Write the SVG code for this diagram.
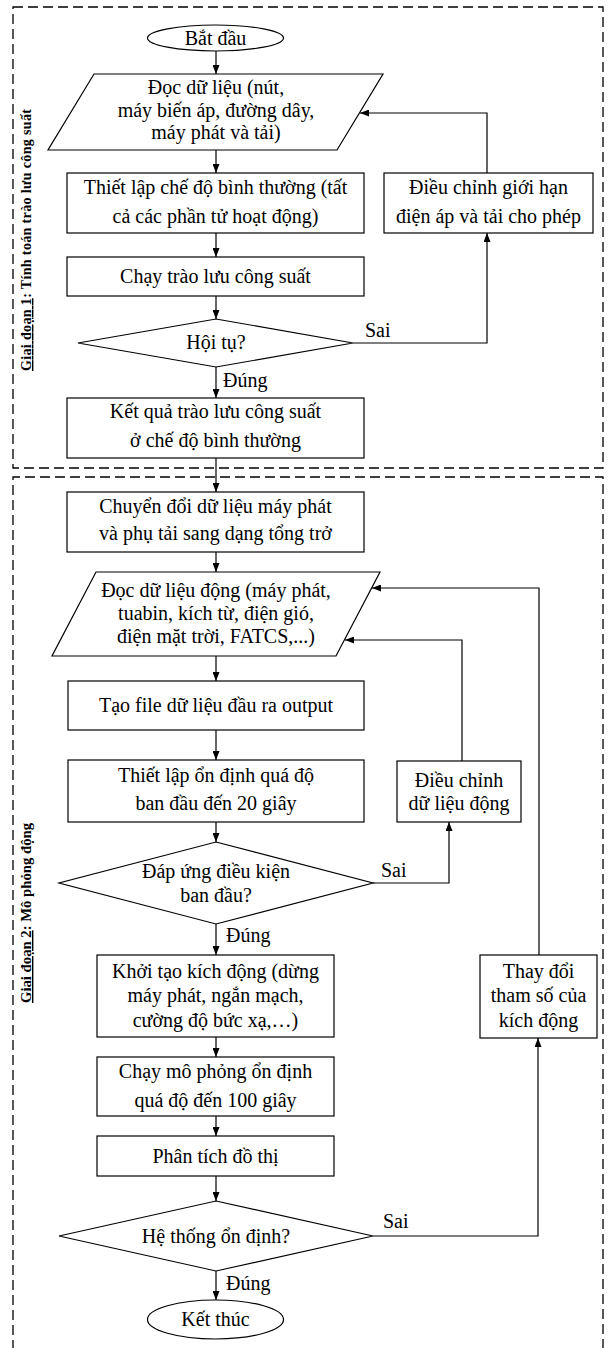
<svg xmlns="http://www.w3.org/2000/svg" width="608" height="1348" viewBox="0 0 608 1348">
<defs>
<marker id="ah" markerUnits="userSpaceOnUse" markerWidth="9" markerHeight="7" refX="9" refY="3.5" orient="auto"><path d="M0,0 L9,3.5 L0,7 z" fill="#000"/></marker>
<style>
.n{fill:#fff;stroke:#000;stroke-width:1.2}
.t{font-family:"Liberation Serif","Times New Roman",serif;font-size:20px;fill:#000;text-anchor:middle}
.l{font-family:"Liberation Serif","Times New Roman",serif;font-size:20px;fill:#000}
.c{fill:none;stroke:#000;stroke-width:1.2;marker-end:url(#ah)}
.d{fill:none;stroke:#000;stroke-width:1.3;stroke-dasharray:10 5}
.v{font-family:"Liberation Serif","Times New Roman",serif;font-size:14px;font-weight:bold;fill:#000;text-anchor:middle}
</style>
</defs>
<rect width="608" height="1348" fill="#fff"/>
<g id="stages">
<rect class="d" x="13" y="7" width="590" height="461"/>
<path class="d" d="M13,1350 V477 H603 V1350"/>
<text class="v" transform="translate(31,240) rotate(-90)" textLength="262" lengthAdjust="spacing"><tspan text-decoration="underline">Giai đoạn 1</tspan>: Tính toán trào lưu công suất</text>
<text class="v" transform="translate(31,913) rotate(-90)" textLength="180" lengthAdjust="spacingAndGlyphs"><tspan text-decoration="underline">Giai đoạn 2</tspan>: Mô phỏng động</text>
</g>
<g id="connectors">
<path class="c" d="M216,51 V74"/>
<path class="c" d="M216,150 V173"/>
<path class="c" d="M216,233 V257"/>
<path class="c" d="M216,296 V319"/>
<path class="c" d="M216,367 V398"/>
<path class="c" d="M353,343 H487 V233"/>
<path class="c" d="M487,173 V113 H360"/>
<path class="c" d="M216,458 V492"/>
<path class="c" d="M216,552 V572"/>
<path class="c" d="M216,656 V681"/>
<path class="c" d="M216,730 V760"/>
<path class="c" d="M216,822 V842"/>
<path class="c" d="M373,883 H449 V822"/>
<path class="c" d="M462,761 V640 H345"/>
<path class="c" d="M216,924 V955"/>
<path class="c" d="M216,1037 V1057"/>
<path class="c" d="M216,1116 V1136"/>
<path class="c" d="M216,1176 V1201"/>
<path class="c" d="M373,1236 H538 V1038"/>
<path class="c" d="M539,955 V588 H372"/>
<path class="c" d="M216,1271 V1300"/>
<text class="l" x="365" y="337">Sai</text>
<text class="l" x="223" y="387">Đúng</text>
<text class="l" x="381" y="877">Sai</text>
<text class="l" x="226" y="942">Đúng</text>
<text class="l" x="383" y="1228">Sai</text>
<text class="l" x="226" y="1290">Đúng</text>
</g>
<g id="start"><ellipse class="n" cx="215.5" cy="38" rx="68" ry="13"/><text class="t" x="215.5" y="44.5">Bắt đầu</text></g>
<g id="read1"><polygon class="n" points="94,74 383,74 337,150 48,150"/><text class="t" x="216" y="94">Đọc dữ liệu (nút,</text><text class="t" x="216" y="117">máy biến áp, đường dây,</text><text class="t" x="216" y="139">máy phát và tải)</text></g>
<g id="setnormal"><rect class="n" x="67" y="173" width="297" height="60"/><text class="t" x="215.5" y="194">Thiết lập chế độ bình thường (tất</text><text class="t" x="215.5" y="223">cả các phần tử hoạt động)</text></g>
<g id="adjust1"><rect class="n" x="384" y="173" width="209" height="60"/><text class="t" x="488.5" y="194">Điều chỉnh giới hạn</text><text class="t" x="488.5" y="223">điện áp và tải cho phép</text></g>
<g id="runpf"><rect class="n" x="67" y="257" width="297" height="39"/><text class="t" x="215.5" y="283">Chạy trào lưu công suất</text></g>
<g id="converge"><polygon class="n" points="216,319 353,343 216,367 78,343"/><text class="t" x="216" y="349">Hội tụ?</text></g>
<g id="pfresult"><rect class="n" x="67" y="398" width="297" height="60"/><text class="t" x="215.5" y="418">Kết quả trào lưu công suất</text><text class="t" x="215.5" y="447">ở chế độ bình thường</text></g>
<g id="convert"><rect class="n" x="67" y="492" width="297" height="60"/><text class="t" x="215.5" y="513">Chuyển đổi dữ liệu máy phát</text><text class="t" x="215.5" y="540">và phụ tải sang dạng tổng trở</text></g>
<g id="read2"><polygon class="n" points="96,572 380,572 336,656 52,656"/><text class="t" x="216" y="597">Đọc dữ liệu động (máy phát,</text><text class="t" x="216" y="620">tuabin, kích từ, điện gió,</text><text class="t" x="216" y="643">điện mặt trời, FATCS,...)</text></g>
<g id="output"><rect class="n" x="68" y="681" width="296" height="49"/><text class="t" x="216" y="712">Tạo file dữ liệu đầu ra output</text></g>
<g id="init"><rect class="n" x="68" y="760" width="296" height="62"/><text class="t" x="216" y="782">Thiết lập ổn định quá độ</text><text class="t" x="216" y="810">ban đầu đến 20 giây</text></g>
<g id="adjust2"><rect class="n" x="397" y="761" width="124" height="61"/><text class="t" x="459" y="787">Điều chỉnh</text><text class="t" x="459" y="810">dữ liệu động</text></g>
<g id="initok"><polygon class="n" points="216,842 373,883 216,924 59,883"/><text class="t" x="216" y="878">Đáp ứng điều kiện</text><text class="t" x="216" y="902">ban đầu?</text></g>
<g id="disturb"><rect class="n" x="97" y="955" width="237" height="82"/><text class="t" x="215.5" y="978">Khởi tạo kích động (dừng</text><text class="t" x="215.5" y="1002">máy phát, ngắn mạch,</text><text class="t" x="215.5" y="1027">cường độ bức xạ,…)</text></g>
<g id="change"><rect class="n" x="480" y="955" width="117" height="83"/><text class="t" x="538.5" y="978">Thay đổi</text><text class="t" x="538.5" y="1002">tham số của</text><text class="t" x="538.5" y="1027">kích động</text></g>
<g id="sim"><rect class="n" x="97" y="1057" width="237" height="59"/><text class="t" x="215.5" y="1078">Chạy mô phỏng ổn định</text><text class="t" x="215.5" y="1107">quá độ đến 100 giây</text></g>
<g id="analyse"><rect class="n" x="97" y="1136" width="237" height="40"/><text class="t" x="215.5" y="1163">Phân tích đồ thị</text></g>
<g id="stable"><polygon class="n" points="216,1201 373,1236 216,1271 59,1236"/><text class="t" x="216" y="1243">Hệ thống ổn định?</text></g>
<g id="end"><ellipse class="n" cx="215.5" cy="1319.5" rx="68" ry="19.5"/><text class="t" x="215.5" y="1326">Kết thúc</text></g>
</svg>
